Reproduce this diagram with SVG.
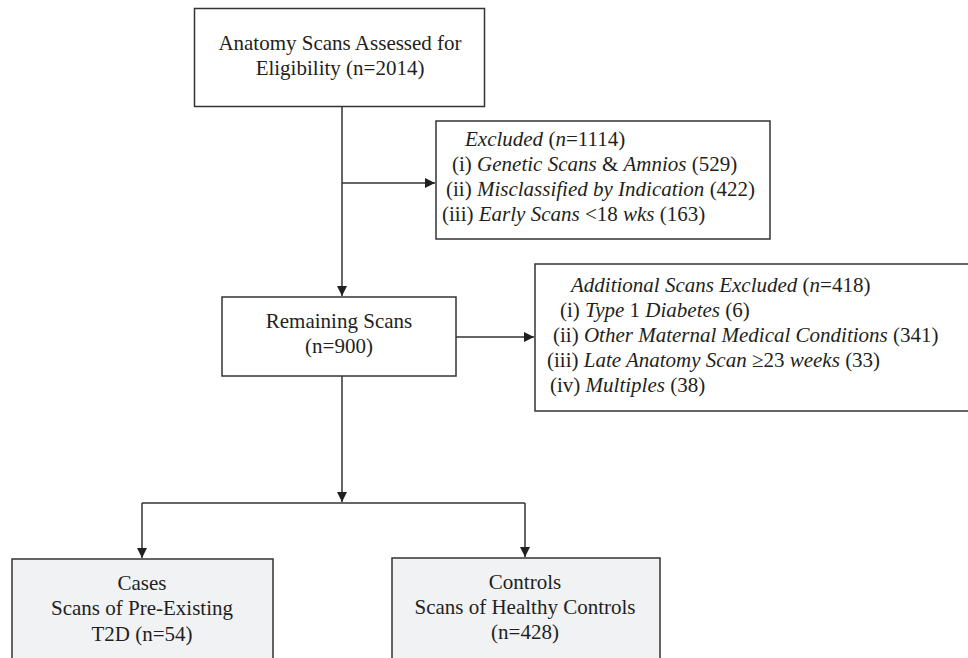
<svg xmlns="http://www.w3.org/2000/svg" width="968" height="658" viewBox="0 0 968 658">
<style>
.box{fill:#ffffff;stroke:#333333;stroke-width:1.5}
.gbox{fill:#f1f2f4;stroke:#333333;stroke-width:1.5}
.t{font-family:"Liberation Serif","Times New Roman",serif;font-size:21px;fill:#231f20}
.c{text-anchor:middle}
.conn{fill:none;stroke:#333333;stroke-width:1.5}
</style>
<defs>
<marker id="ah" viewBox="0 0 10 10" refX="10" refY="5" markerWidth="10" markerHeight="10" markerUnits="userSpaceOnUse" orient="auto">
<path d="M0,0 L10,5 L0,10 z" fill="#231f20"/>
</marker>
</defs>
<rect width="968" height="658" fill="#ffffff"/>
<g id="connectors">
<path class="conn" d="M342,107 V296" marker-end="url(#ah)"/>
<path class="conn" d="M342,183 H435" marker-end="url(#ah)"/>
<path class="conn" d="M456,337 H534" marker-end="url(#ah)"/>
<path class="conn" d="M342,376 V502" marker-end="url(#ah)"/>
<path class="conn" d="M142,503 H525"/>
<path class="conn" d="M142,503 V558" marker-end="url(#ah)"/>
<path class="conn" d="M525,503 V557" marker-end="url(#ah)"/>
</g>
<g id="node-assessed">
<rect class="box" x="194.5" y="8.5" width="290" height="98"/>
<text class="t c" x="340" y="50">Anatomy Scans Assessed for</text>
<text class="t c" x="340" y="75">Eligibility (n=2014)</text>
</g>
<g id="node-excluded">
<rect class="box" x="436" y="121" width="334" height="118"/>
<text class="t" x="465" y="146"><tspan font-style="italic">Excluded</tspan> (<tspan font-style="italic">n</tspan>=1114)</text>
<text class="t" x="452" y="171">(i) <tspan font-style="italic">Genetic Scans</tspan> &amp; <tspan font-style="italic">Amnios</tspan> (529)</text>
<text class="t" x="446" y="196">(ii) <tspan font-style="italic">Misclassified by Indication</tspan> (422)</text>
<text class="t" x="442" y="221">(iii) <tspan font-style="italic">Early Scans</tspan> &lt;18 <tspan font-style="italic">wks</tspan> (163)</text>
</g>
<g id="node-remaining">
<rect class="box" x="222" y="297" width="234" height="79"/>
<text class="t c" x="339" y="328">Remaining Scans</text>
<text class="t c" x="339" y="353">(n=900)</text>
</g>
<g id="node-additional">
<rect class="box" x="535" y="264" width="440" height="147"/>
<text class="t" x="571" y="292"><tspan font-style="italic">Additional Scans Excluded</tspan> (<tspan font-style="italic">n</tspan>=418)</text>
<text class="t" x="560" y="317">(i) <tspan font-style="italic">Type</tspan> 1 <tspan font-style="italic">Diabetes</tspan> (6)</text>
<text class="t" x="553" y="342">(ii) <tspan font-style="italic">Other Maternal Medical Conditions</tspan> (341)</text>
<text class="t" x="547" y="367">(iii) <tspan font-style="italic">Late Anatomy Scan</tspan> ≥23 <tspan font-style="italic">weeks</tspan> (33)</text>
<text class="t" x="550" y="392">(iv) <tspan font-style="italic">Multiples</tspan> (38)</text>
</g>
<g id="node-cases">
<rect class="gbox" x="12" y="559" width="261" height="120"/>
<text class="t c" x="142" y="590">Cases</text>
<text class="t c" x="142" y="615">Scans of Pre-Existing</text>
<text class="t c" x="142" y="641">T2D (n=54)</text>
</g>
<g id="node-controls">
<rect class="gbox" x="392" y="558" width="268" height="120"/>
<text class="t c" x="525" y="589">Controls</text>
<text class="t c" x="525" y="614">Scans of Healthy Controls</text>
<text class="t c" x="525" y="639">(n=428)</text>
</g>
</svg>
